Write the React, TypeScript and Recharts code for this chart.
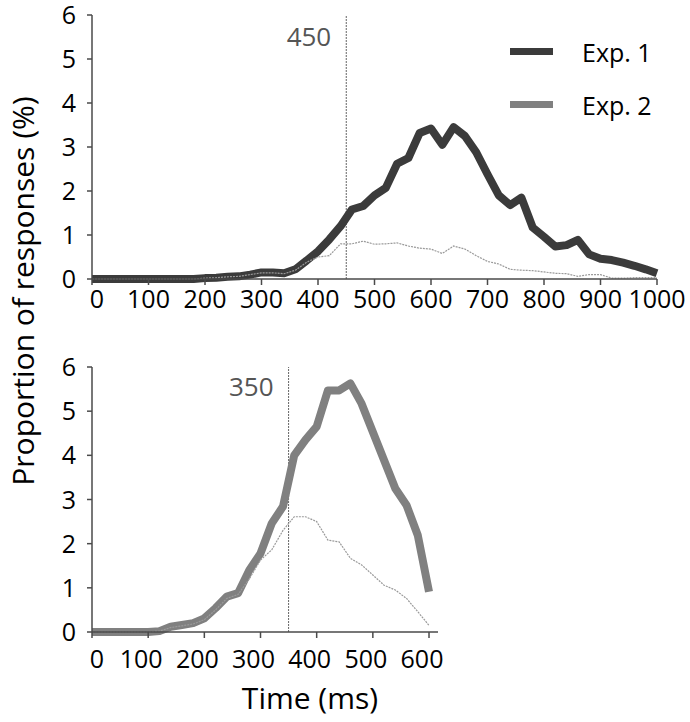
import React from 'react';
import { LineChart, Line, XAxis, YAxis, ReferenceLine, Label } from 'recharts';

const topTimes = [0,20,40,60,80,100,120,140,160,180,200,220,240,260,280,300,320,340,360,380,400,420,440,460,480,500,520,540,560,580,600,620,640,660,680,700,720,740,760,780,800,820,840,860,880,900,920,940,960,980,1000];
const exp1Main = [0,0,0,0,0,0,0,0,0,0,0.02,0.03,0.05,0.06,0.1,0.15,0.15,0.13,0.22,0.42,0.63,0.9,1.2,1.58,1.66,1.9,2.07,2.62,2.75,3.32,3.42,3.05,3.45,3.25,2.88,2.38,1.9,1.68,1.85,1.17,0.96,0.74,0.77,0.89,0.56,0.46,0.43,0.37,0.3,0.22,0.13];
const exp1Thin = [0,0,0,0,0,0,0,0,0,0,0.02,0.03,0.05,0.06,0.1,0.14,0.14,0.12,0.2,0.38,0.5,0.53,0.8,0.8,0.86,0.79,0.8,0.82,0.75,0.7,0.68,0.58,0.75,0.68,0.53,0.4,0.34,0.22,0.2,0.19,0.16,0.13,0.12,0.06,0.1,0.1,0.02,0.02,0.03,0.03,0.03];

const bottomTimes = [0,20,40,60,80,100,120,140,160,180,200,220,240,260,280,300,320,340,360,380,400,420,440,460,480,500,520,540,560,580,600];
const exp2Main = [0,0,0,0,0,0,0.02,0.12,0.16,0.2,0.31,0.54,0.8,0.88,1.4,1.78,2.46,2.84,4.0,4.35,4.65,5.47,5.47,5.63,5.17,4.53,3.89,3.25,2.87,2.19,0.91];
const exp2Thin = [0,0,0,0,0,0,0.02,0.1,0.14,0.18,0.28,0.5,0.76,0.85,1.2,1.63,1.86,2.3,2.61,2.61,2.5,2.08,2.04,1.67,1.52,1.29,1.06,0.95,0.76,0.46,0.15];

const topXTicks = [0,100,200,300,400,500,600,700,800,900,1000];
const bottomXTicks = [0,100,200,300,400,500,600];
const yTicks = [0,1,2,3,4,5,6];

const legendItems = [
  { name: 'Exp. 1', color: '#3b3b3b' },
  { name: 'Exp. 2', color: '#808080' },
];

const FONT = '"Open Sans", sans-serif';
const AXIS = '#4a4a4a';

const topData = topTimes.map((t, i) => ({ t, main: exp1Main[i], thin: exp1Thin[i] }));
const bottomData = bottomTimes.map((t, i) => ({ t, main: exp2Main[i], thin: exp2Thin[i] }));

function makeXTick(fontSize: number, shift: number) {
  return (props: any) => {
    const { x, y, payload } = props;
    const dx = payload.value === 0 ? 5 : shift;
    return (
      <text x={x + dx} y={y} dy="0.71em" textAnchor="middle" fontSize={fontSize} fill="#000" fontFamily={FONT}>
        {payload.value}
      </text>
    );
  };
}

function YTick(props: any) {
  const { x, y, payload } = props;
  return (
    <text x={x} y={y} dy="0.36em" textAnchor="end" fontSize={25} fill="#000" fontFamily={FONT}>
      {payload.value}
    </text>
  );
}

export default function App() {
  return (
    <div style={{ position: 'absolute', left: 0, top: 0, width: 690, height: 722, background: '#fff', fontFamily: FONT }}>
      <div style={{ position: 'absolute', left: 0, top: 0 }}>
        <LineChart width={690} height={330} data={topData} margin={{ top: 15, right: 33, bottom: 11, left: 32 }}>
          <XAxis
            dataKey="t"
            type="number"
            domain={[0, 1000]}
            ticks={topXTicks}
            interval={0}
            axisLine={{ stroke: AXIS, strokeWidth: 1.5 }}
            tickLine={{ stroke: AXIS, strokeWidth: 1.5 }}
            tickSize={6}
            tickMargin={5}
            height={40}
            tick={makeXTick(25, 0)}
          />
          <YAxis
            type="number"
            domain={[0, 6]}
            ticks={yTicks}
            interval={0}
            axisLine={{ stroke: AXIS, strokeWidth: 1.5 }}
            tickLine={{ stroke: AXIS, strokeWidth: 1.5 }}
            tickSize={5}
            tickMargin={11}
            width={60}
            tick={YTick}
          />
          <ReferenceLine x={450} stroke="#666" strokeDasharray="2 1" strokeWidth={1}>
            <Label value="450" position="insideTopRight" offset={0} dx={-15} dy={13} fontSize={26} fill="#555" fontFamily={FONT} />
          </ReferenceLine>
          <Line dataKey="main" stroke="#3b3b3b" strokeWidth={8} dot={false} strokeLinejoin="round" isAnimationActive={false} />
          <Line dataKey="thin" stroke="#9a9a9a" strokeWidth={1.2} strokeDasharray="2 1" dot={false} isAnimationActive={false} />
        </LineChart>
      </div>
      <div style={{ position: 'absolute', left: 510, top: 25, width: 170, fontFamily: FONT }}>
        {legendItems.map((it) => (
          <div key={it.name} style={{ display: 'flex', alignItems: 'center', height: 53 }}>
            <div style={{ width: 43, height: 7, background: it.color, marginRight: 29 }} />
            <span style={{ fontSize: 25, color: '#000' }}>{it.name}</span>
          </div>
        ))}
      </div>
      <div style={{ position: 'absolute', left: 0, top: 340 }}>
        <LineChart width={690} height={382} data={bottomData} margin={{ top: 27, right: 252, bottom: 30, left: 32 }}>
          <XAxis
            dataKey="t"
            type="number"
            domain={[0, 616]}
            ticks={bottomXTicks}
            interval={0}
            axisLine={{ stroke: AXIS, strokeWidth: 1.5 }}
            tickLine={{ stroke: AXIS, strokeWidth: 1.5 }}
            tickSize={6}
            tickMargin={12}
            height={60}
            tick={makeXTick(25, -7)}
          />
          <YAxis
            type="number"
            domain={[0, 6]}
            ticks={yTicks}
            interval={0}
            axisLine={{ stroke: AXIS, strokeWidth: 1.5 }}
            tickLine={{ stroke: AXIS, strokeWidth: 1.5 }}
            tickSize={5}
            tickMargin={11}
            width={60}
            tick={YTick}
          />
          <ReferenceLine x={350} stroke="#666" strokeDasharray="2 1" strokeWidth={1}>
            <Label value="350" position="insideTopRight" offset={0} dx={-15} dy={11} fontSize={26} fill="#555" fontFamily={FONT} />
          </ReferenceLine>
          <Line dataKey="main" stroke="#808080" strokeWidth={8} dot={false} strokeLinejoin="round" isAnimationActive={false} />
          <Line dataKey="thin" stroke="#9a9a9a" strokeWidth={1.2} strokeDasharray="2 1" dot={false} isAnimationActive={false} />
        </LineChart>
      </div>
      <svg width={690} height={722} style={{ position: 'absolute', left: 0, top: 0, pointerEvents: 'none' }}>
        <text x={22} y={291} transform="rotate(-90 22 291)" textAnchor="middle" dominantBaseline="central" fontSize={30} fill="#000" fontFamily={FONT}>
          Proportion of responses (%)
        </text>
        <text x={310} y={697} textAnchor="middle" dominantBaseline="central" fontSize={30} fill="#000" fontFamily={FONT}>
          Time (ms)
        </text>
      </svg>
    </div>
  );
}
